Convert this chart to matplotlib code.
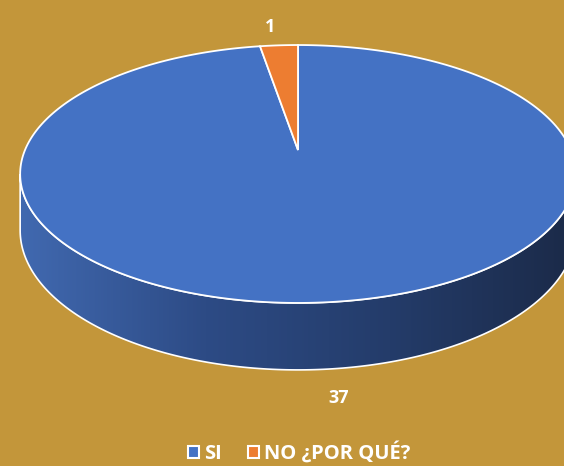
import numpy as np
import matplotlib
matplotlib.use('Agg')
from matplotlib import pyplot as plt
from matplotlib.patches import Polygon, Patch
from matplotlib.colors import LinearSegmentedColormap

# datos
categorias = ['SI', 'NO ¿POR QUÉ?']
valores = [37, 1]
colores = ['#4472C4', '#ED7D31']
fondo = '#C3963A'

# geometria del pastel 3d (pixeles)
cx, cy = 298, 150
A, B = 273, 124.5
k = 0.186
H0 = 54.5


def proj(theta, r=1.0, depth=0.0):
    X = r * np.cos(theta)
    Y = r * np.sin(theta)
    s = 1.0 / (1 + k * Y)
    return cx + A * X * s, cy - B * Y * s + depth * s


fig = plt.figure(figsize=(5.64, 4.66), dpi=100)
fig.patch.set_facecolor(fondo)
ax = fig.add_axes([0, 0, 1, 1])
ax.set_xlim(0, 564)
ax.set_ylim(466, 0)
ax.axis('off')
ax.set_facecolor(fondo)

total = sum(valores)
ang = 90.0
limites = []
for v in valores:
    a0 = ang
    a1 = ang - 360.0 * v / total
    limites.append((a0, a1))
    ang = a1

# lado (solo la parte frontal es visible)
t1 = np.pi + np.arcsin(k)
t2 = 2 * np.pi - np.arcsin(k)
tt = np.linspace(t1, t2, 200)
xs, ys = proj(tt)
xb, yb = proj(tt[::-1], depth=H0)
lado = np.column_stack([np.r_[xs, xb], np.r_[ys, yb]])
poly_lado = Polygon(lado, closed=True, facecolor='none', edgecolor='white', lw=1.2, zorder=3)
ax.add_patch(poly_lado)
cmap = LinearSegmentedColormap.from_list('lado', ['#4169B0', '#2D4B85', '#243C6A', '#1B2A48'])
grad = np.linspace(0, 1, 256).reshape(1, -1)
im = ax.imshow(grad, cmap=cmap, aspect='auto',
               extent=[lado[:, 0].min(), lado[:, 0].max(), lado[:, 1].max(), lado[:, 1].min()],
               zorder=2)
im.set_clip_path(poly_lado)

# cara superior
for (a0, a1), c in zip(limites, colores):
    th = np.radians(np.linspace(a0, a1, 300))
    px, py = proj(th)
    pts = np.column_stack([np.r_[cx, px], np.r_[cy, py]])
    ax.add_patch(Polygon(pts, closed=True, facecolor=c, edgecolor='white', lw=1.3, zorder=4))

# etiquetas de datos
for (a0, a1), v in zip(limites, valores):
    mid = np.radians((a0 + a1) / 2)
    if np.sin(mid) < 0:
        x, y = proj(mid + 0.02, r=1.14, depth=H0)
    else:
        x, y = proj(mid + 0.02, r=1.22)
    ax.text(x, y, str(v), color='white', fontsize=13, fontweight='bold',
            family='Open Sans', ha='center', va='center', zorder=5)

handles = [Patch(facecolor=c, edgecolor='white', lw=1.5) for c in colores]
leg = ax.legend(handles, categorias, loc='lower center', bbox_to_anchor=(0.53, -0.034),
                ncol=2, frameon=False, handlelength=0.55, handleheight=0.55,
                handletextpad=0.25, columnspacing=1.3,
                prop={'family': 'Open Sans', 'weight': 'bold', 'size': 14.5})
for t in leg.get_texts():
    t.set_color('white')

plt.savefig('out.png', dpi=100, facecolor=fondo)
